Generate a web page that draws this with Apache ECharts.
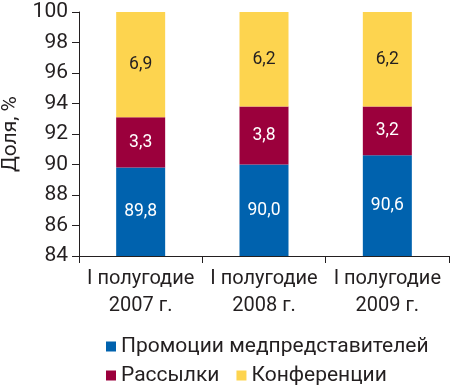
<!DOCTYPE html>
<html><head><meta charset="utf-8">
<script src="https://cdn.jsdelivr.net/npm/echarts@6/dist/echarts.min.js"></script>
<style>html,body{margin:0;padding:0;background:#fff}#c{width:450px;height:386px}</style>
</head><body><div id="c"></div>
<script>
const categories = ['I полугодие\n2007 г.', 'I полугодие\n2008 г.', 'I полугодие\n2009 г.'];
const promo = [89.8, 90.0, 90.6];
const mail = [3.3, 3.8, 3.2];
const conf = [6.9, 6.2, 6.2];
const yTicks = [84, 86, 88, 90, 92, 94, 96, 98, 100];
const names = ['Промоции медпредставителей', 'Рассылки', 'Конференции'];
const colors = ['#0062ae', '#9b003c', '#fdd44f'];
const FONT = 'Roboto';
const TXT = '#231f20';
const chart = echarts.init(document.getElementById('c'));
const fmt = p => p.value.toFixed(1).replace('.', ',');
function ser(name, data, color, lblColor) {
  return {
    name, type: 'bar', stack: 's', data, barWidth: 49, clip: true,
    itemStyle: { color },
    label: { show: true, position: 'inside', formatter: fmt, color: lblColor, fontFamily: FONT, fontSize: 17.5 }
  };
}
chart.setOption({
  animation: false,
  textStyle: { fontFamily: FONT },
  grid: { left: 79, right: 1, top: 12, bottom: 130, containLabel: false, outerBoundsMode: 'none' },
  legend: [
    { data: [names[0]], left: 101, top: 331, itemWidth: 10, itemHeight: 10, itemGap: 20,
      textStyle: { fontSize: 21, color: TXT, fontFamily: FONT }, icon: 'rect' },
    { data: [names[1], names[2]], left: 101, top: 360, itemWidth: 10, itemHeight: 10, itemGap: 17,
      textStyle: { fontSize: 21, color: TXT, fontFamily: FONT }, icon: 'rect' }
  ],
  xAxis: {
    type: 'category', data: categories,
    axisLine: { lineStyle: { color: TXT, width: 1 } },
    axisTick: { show: true, length: 7, lineStyle: { color: TXT } },
    axisLabel: { color: TXT, fontSize: 20, lineHeight: 27, margin: 9, fontFamily: FONT, interval: 0 }
  },
  yAxis: {
    type: 'value', min: 84, max: 100, interval: 2,
    name: 'Доля, %', nameLocation: 'middle', nameGap: 53, nameRotate: 90,
    nameTextStyle: { fontSize: 21, color: TXT, fontFamily: FONT },
    axisLine: { show: true, lineStyle: { color: TXT, width: 1 } },
    axisTick: { show: true, length: 7, lineStyle: { color: TXT } },
    splitLine: { show: false },
    axisLabel: { color: TXT, fontSize: 21, margin: 11, fontFamily: FONT,
      formatter: v => yTicks.includes(v) ? String(v) : '' }
  },
  series: [
    ser(names[0], promo, colors[0], '#fff'),
    ser(names[1], mail, colors[1], '#fff'),
    ser(names[2], conf, colors[2], TXT)
  ]
});
</script></body></html>
